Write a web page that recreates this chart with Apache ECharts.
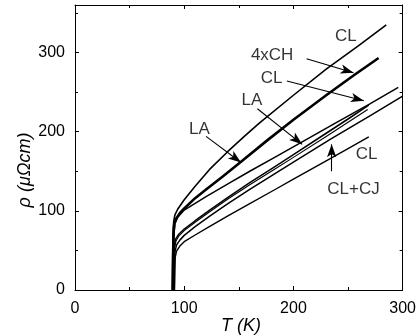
<!DOCTYPE html>
<html>
<head>
<meta charset="utf-8">
<script src="https://cdn.jsdelivr.net/npm/echarts@6/dist/echarts.min.js"></script>
<style>html,body{margin:0;padding:0;background:#fff;}#c{width:419px;height:336px;}</style>
</head>
<body>
<div id="c"></div>
<script>
// Tick labels
var xTicks = [0, 100, 200, 300];
var yTicks = [0, 100, 200, 300];

// Curves: [T (K), rho (μΩcm)]
var curveCLTop = [[89,0],[89.3,30],[89.6,60],[90,80],[90.5,88],[91.5,95],[94,102],[100,114],[110,131],[123,152],[140,175],[155,194],[169,211],[200,246],[230,279],[260,309],[285,335]];
var curve4xCH = [[89.5,0],[89.8,40],[90.2,72],[91,84],[93,91],[96,97],[100,103],[110,116],[120,127],[135,143],[152,162],[176,189],[200,215],[230,246],[255,271],[278,293]];
var curveLA = [[90,0],[90.3,40],[90.7,72],[91.5,84],[94,92],[100,101],[120,118],[140,134],[160,150],[182,167],[208,187],[240,212],[270,235],[296,256]];
var curveCLMid = [[90,0],[90.3,30],[90.8,55],[92,64],[95,70.5],[100,77],[110,87.5],[123,100.5],[140,117],[160,135.5],[182,155],[200,171],[230,198],[250,216],[269,233.5]];
var curveCLMid2 = [[90.5,0],[90.8,30],[91.2,53],[92.5,62],[95,68],[100,75],[110,85.5],[123,98.5],[140,115],[160,133],[182,152],[200,167.5],[230,194],[250,212],[268,228]];
var curveCLCJ = [[91,0],[91.3,30],[91.6,49],[93,57],[96,63],[100,69],[110,80],[123,93],[140,109],[160,127],[182,146],[200,161.5],[234,190.5],[270,220],[300,245]];
var curveCLLow = [[91,0],[91.3,25],[91.7,41],[93,49],[96,55.5],[100,61],[110,69.5],[123,80],[140,93.5],[160,109],[182,126],[200,140],[230,163],[250,178.5],[269,193.5]];

// Annotation labels [T, rho, text]
var labels = [[248,321,'CL'],[180.5,297,'4xCH'],[180,268,'CL'],[162,240,'LA'],[114,203,'LA'],[267,171.5,'CL'],[255,127,'CL+CJ']];
// Arrows [[T1,rho1],[T2,rho2]]
var arrows = [
  [[212,292],[255,274.5]],
  [[194,264],[264.5,239]],
  [[167,229],[208,184]],
  [[120,194],[152,161]],
  [[235,150],[235,184]]
];

var chart = echarts.init(document.getElementById('c'), null, {renderer:'canvas'});
var font = '"Liberation Sans", Arial, Helvetica, sans-serif';
function lineSeries(data, w){
  return {type:'line', data:data, showSymbol:false, smooth:false,
    lineStyle:{color:'#000', width:w, join:'round'}, silent:true, animation:false, z:3};
}
var series = [
  lineSeries(curveCLTop,1.6),
  lineSeries(curve4xCH,2.6),
  lineSeries(curveLA,1.5),
  lineSeries(curveCLMid,1.5),
  lineSeries(curveCLMid2,1.1),
  lineSeries(curveCLCJ,1.5),
  lineSeries(curveCLLow,1.4)
];
series.push({
  type:'scatter', data:labels.map(function(l){return [l[0],l[1],l[2]];}),
  symbolSize:0, silent:true, animation:false,
  label:{show:true, position:'inside', formatter:function(p){return p.data[2];},
    color:'#000', fontFamily:font, fontSize:17},
  markLine:{silent:true, animation:false, symbol:['none','arrow'], symbolSize:[7,13],
    lineStyle:{color:'#000', width:1.1, type:'solid'}, label:{show:false},
    data:arrows.map(function(a){return [{coord:a[0]},{coord:a[1]}];})}
});

chart.setOption({
  animation:false,
  backgroundColor:'#fff',
  grid:{left:75, right:15, top:5, bottom:46, containLabel:false},
  xAxis:[
    {type:'value', min:0, max:300, interval:100,
     axisLine:{lineStyle:{color:'#000', width:1}},
     axisTick:{inside:true, length:4, lineStyle:{color:'#000'}},
     minorTick:{show:true, splitNumber:2, length:3, lineStyle:{color:'#000'}},
     splitLine:{show:false},
     axisLabel:{color:'#000', fontFamily:font, fontSize:16, margin:11,
       formatter:function(v){return xTicks.indexOf(v)>=0?String(v):'';}}},
    {type:'value', position:'top', min:0, max:300, interval:100,
     axisLine:{show:true, onZero:false, lineStyle:{color:'#000', width:1}},
     axisTick:{inside:true, length:4, lineStyle:{color:'#000'}},
     minorTick:{show:true, splitNumber:2, length:3, lineStyle:{color:'#000'}},
     splitLine:{show:false}, axisLabel:{show:false}}
  ],
  yAxis:[
    {type:'value', min:0, max:360, interval:100,
     axisLine:{show:true, lineStyle:{color:'#000', width:1}},
     axisTick:{show:true, inside:true, length:4, lineStyle:{color:'#000'}},
     minorTick:{show:true, splitNumber:2, length:3, lineStyle:{color:'#000'}},
     splitLine:{show:false},
     axisLabel:{color:'#000', fontFamily:font, fontSize:16, margin:10, showMaxLabel:false,
       formatter:function(v){return yTicks.indexOf(v)>=0?String(v):'';}}},
    {type:'value', position:'right', min:0, max:360, interval:100,
     axisLine:{show:true, onZero:false, lineStyle:{color:'#000', width:1}},
     axisTick:{show:true, inside:true, length:4, lineStyle:{color:'#000'}},
     minorTick:{show:true, splitNumber:2, length:3, lineStyle:{color:'#000'}},
     splitLine:{show:false}, axisLabel:{show:false}}
  ],
  graphic:[
    {type:'text', x:25, y:170, rotation:Math.PI/2,
     style:{text:'ρ (μΩcm)', font:'italic 18px '+font, fill:'#000', textAlign:'center', textVerticalAlign:'middle'}, silent:true},
    {type:'text', x:241, y:326,
     style:{text:'T (K)', font:'italic 18px '+font, fill:'#000', textAlign:'center', textVerticalAlign:'middle'}, silent:true}
  ],
  series:series
});
</script>
</body>
</html>
